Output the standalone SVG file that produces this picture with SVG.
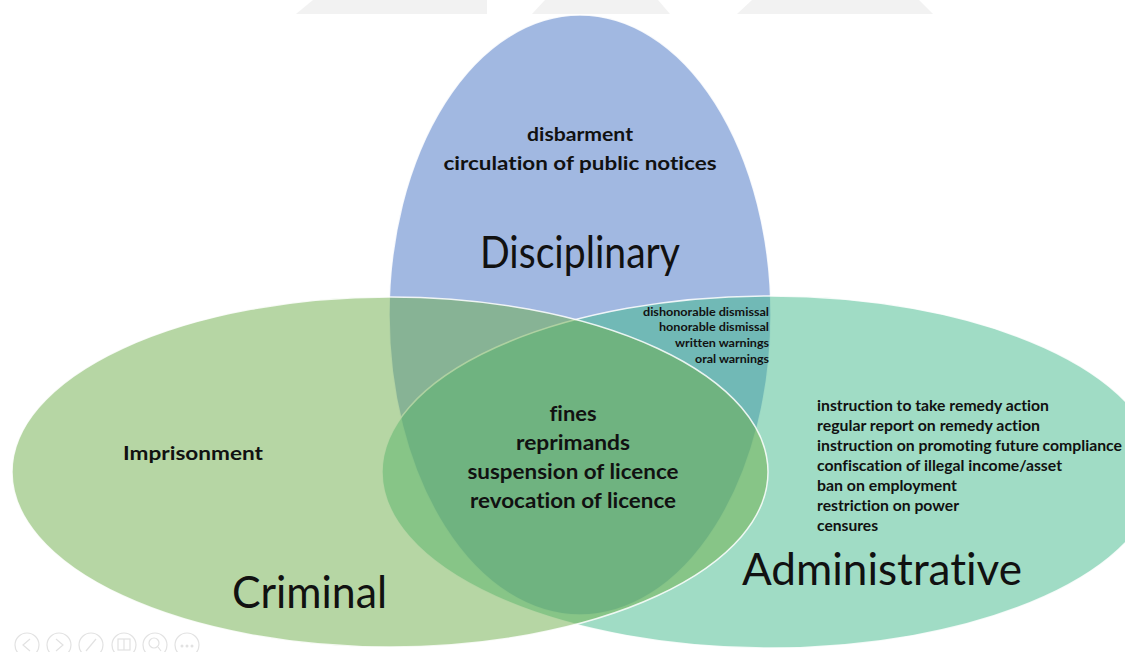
<svg xmlns="http://www.w3.org/2000/svg" width="1125" height="652" viewBox="0 0 1125 652">
<style>
.set{fill-opacity:0.5;stroke:#ffffff;stroke-width:1.5;stroke-opacity:0.85}
text{font-variant-ligatures:none;font-feature-settings:"liga" 0,"clig" 0,"dlig" 0}
.item{font-family:Lato,"Liberation Sans",sans-serif;font-weight:bold;fill:#111111}
.title{font-family:Lato,"Liberation Sans",sans-serif;font-weight:normal;fill:#111111}
.ctl{fill:none;stroke:#e2e2e2;stroke-width:1.2}
.tab{fill:#f2f2f2}
</style>
<rect width="1125" height="652" fill="#ffffff"/>
<g id="top-tabs">
<polygon class="tab" points="313,0 487,0 487,14 296,14"/>
<polygon class="tab" points="545,0 658,0 670,14 532,14"/>
<polygon class="tab" points="752,0 919,0 933,14 737,14"/>
</g>
<g id="disciplinary">
<ellipse class="set" cx="580" cy="315" rx="191" ry="300" fill="#4472c4"/>
</g>
<g id="administrative">
<ellipse class="set" cx="770" cy="472" rx="388" ry="176" fill="#41b98b"/>
</g>
<g id="criminal">
<ellipse class="set" cx="390" cy="472" rx="378" ry="175" fill="#6dad49"/>
</g>
<g id="connectors"></g>
<g id="disciplinary-labels">
<text class="item" x="580" y="141" font-size="18" text-anchor="middle" textLength="106" lengthAdjust="spacingAndGlyphs">disbarment</text>
<text class="item" x="580" y="170" font-size="18" text-anchor="middle" textLength="273" lengthAdjust="spacingAndGlyphs">circulation of public notices</text>
<text class="title" x="580" y="268" font-size="45" text-anchor="middle" textLength="200" lengthAdjust="spacingAndGlyphs">Disciplinary</text>
</g>
<g id="disc-admin-labels">
<text class="item" x="769" y="316" font-size="11" text-anchor="end" textLength="126" lengthAdjust="spacingAndGlyphs">dishonorable dismissal</text>
<text class="item" x="769" y="331" font-size="11" text-anchor="end" textLength="110" lengthAdjust="spacingAndGlyphs">honorable dismissal</text>
<text class="item" x="769" y="347" font-size="11" text-anchor="end" textLength="94" lengthAdjust="spacingAndGlyphs">written warnings</text>
<text class="item" x="769" y="363" font-size="11" text-anchor="end" textLength="74" lengthAdjust="spacingAndGlyphs">oral warnings</text>
</g>
<g id="shared-labels">
<text class="item" x="573" y="421" font-size="20" text-anchor="middle" textLength="47" lengthAdjust="spacingAndGlyphs">fines</text>
<text class="item" x="573" y="450" font-size="20" text-anchor="middle" textLength="114" lengthAdjust="spacingAndGlyphs">reprimands</text>
<text class="item" x="573" y="479" font-size="20" text-anchor="middle" textLength="211" lengthAdjust="spacingAndGlyphs">suspension of licence</text>
<text class="item" x="573" y="508" font-size="20" text-anchor="middle" textLength="206" lengthAdjust="spacingAndGlyphs">revocation of licence</text>
</g>
<g id="criminal-labels">
<text class="item" x="123" y="460" font-size="18" textLength="140" lengthAdjust="spacingAndGlyphs">Imprisonment</text>
<text class="title" x="232" y="608" font-size="45" textLength="155" lengthAdjust="spacingAndGlyphs">Criminal</text>
</g>
<g id="administrative-labels">
<text class="item" x="817" y="411" font-size="15" textLength="232" lengthAdjust="spacingAndGlyphs">instruction to take remedy action</text>
<text class="item" x="817" y="431" font-size="15" textLength="223" lengthAdjust="spacingAndGlyphs">regular report on remedy action</text>
<text class="item" x="817" y="451" font-size="15" textLength="305" lengthAdjust="spacingAndGlyphs">instruction on promoting future compliance</text>
<text class="item" x="817" y="471" font-size="15" textLength="245" lengthAdjust="spacingAndGlyphs">confiscation of illegal income/asset</text>
<text class="item" x="817" y="491" font-size="15" textLength="140" lengthAdjust="spacingAndGlyphs">ban on employment</text>
<text class="item" x="817" y="511" font-size="15" textLength="142" lengthAdjust="spacingAndGlyphs">restriction on power</text>
<text class="item" x="817" y="531" font-size="15" textLength="61" lengthAdjust="spacingAndGlyphs">censures</text>
<text class="title" x="742" y="585" font-size="45" textLength="280" lengthAdjust="spacingAndGlyphs">Administrative</text>
</g>
<g id="slide-controls">
<circle class="ctl" cx="27" cy="645" r="12"/>
<polyline class="ctl" points="30,639 23,645 30,651"/>
<circle class="ctl" cx="59" cy="645" r="12"/>
<polyline class="ctl" points="56,639 63,645 56,651"/>
<circle class="ctl" cx="91" cy="645" r="12"/>
<line class="ctl" x1="86" y1="651" x2="96" y2="639"/>
<circle class="ctl" cx="124" cy="645" r="12"/>
<rect class="ctl" x="118" y="639" width="12" height="11"/>
<line class="ctl" x1="124" y1="639" x2="124" y2="650"/>
<circle class="ctl" cx="155" cy="645" r="12"/>
<circle class="ctl" cx="154" cy="643" r="5"/>
<line class="ctl" x1="158" y1="647" x2="161" y2="651"/>
<circle class="ctl" cx="187" cy="645" r="12"/>
<circle cx="182" cy="646" r="1.5" fill="#e2e2e2"/>
<circle cx="187" cy="646" r="1.5" fill="#e2e2e2"/>
<circle cx="192" cy="646" r="1.5" fill="#e2e2e2"/>
</g>
</svg>
